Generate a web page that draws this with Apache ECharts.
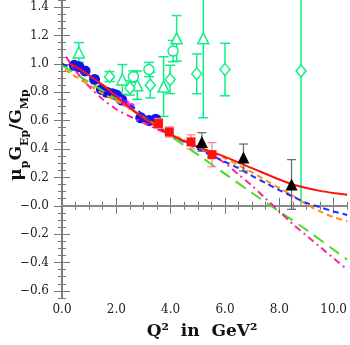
<!DOCTYPE html>
<html><head><meta charset="utf-8">
<script src="https://cdn.jsdelivr.net/npm/echarts@6/dist/echarts.min.js"></script>
<style>html,body{margin:0;padding:0;background:#fff}#c{width:350px;height:345px}</style>
</head><body><div id="c"></div>
<script>
// ---- axis ticks ----
const xTickValues = [0, 2, 4, 6, 8, 10];
const xTickLabels = ['0.0', '2.0', '4.0', '6.0', '8.0', '10.0'];
const yTickValues = [-0.6, -0.4, -0.2, 0, 0.2, 0.4, 0.6, 0.8, 1.0, 1.2, 1.4];
const yTickLabels = ['\u22120.6', '\u22120.4', '\u22120.2', '\u22120.0', '0.2', '0.4', '0.6', '0.8', '1.0', '1.2', '1.4'];

// ---- data points ----
const blueX = [0.45, 0.62, 0.85, 1.2, 1.45, 1.65, 1.85, 2.0, 2.2, 2.9, 3.2, 3.45];
const blueY = [0.99, 0.98, 0.95, 0.89, 0.82, 0.80, 0.79, 0.78, 0.745, 0.62, 0.60, 0.61];

const magX = [2.1, 2.35, 2.55];
const magY = [0.745, 0.72, 0.70];

const redX = [3.55, 3.95, 4.75, 5.52];
const redY = [0.58, 0.52, 0.45, 0.36];
const redErr = [0.035, 0.035, 0.05, 0.085];

const blkX = [5.15, 6.68, 8.45];
const blkY = [0.45, 0.34, 0.15];
const blkErr = [0.065, 0.095, 0.175];

const gTriX = [0.62, 2.22, 2.77, 3.74, 4.22, 5.2];
const gTriY = [1.08, 0.89, 0.85, 0.84, 1.18, 1.18];
const gTriErr = [0.07, 0.105, 0.10, 0.21, 0.16, 0.56];

const gCirX = [2.63, 3.2, 4.09];
const gCirY = [0.91, 0.96, 1.09];
const gCirErr = [0.04, 0.05, 0.075];

const gDiaX = [1.75, 2.5, 3.25, 3.98, 4.96, 6.0, 8.8];
const gDiaY = [0.91, 0.83, 0.85, 0.89, 0.93, 0.96, 0.95];
const gDiaErr = [0.035, 0.05, 0.09, 0.10, 0.14, 0.185, 0.95];

// ---- model curves ----
const redCurveX = [0.3, 0.5, 1, 1.5, 2, 2.5, 3, 3.5, 4, 4.5, 5, 5.5, 6, 7, 8, 8.5, 9, 9.5, 10, 10.5];
const redCurveY = [1.0, 0.98, 0.92, 0.85, 0.77, 0.69, 0.62, 0.555, 0.50, 0.455, 0.415, 0.38, 0.345, 0.265, 0.185, 0.15, 0.125, 0.105, 0.09, 0.077];

const blueCurveX = [0, 0.5, 1, 1.5, 2, 2.5, 3, 3.5, 4, 4.5, 5, 5.5, 6, 6.5, 7, 7.5, 8, 8.5, 9, 9.5, 10, 10.5];
const blueCurveY = [1.0, 0.96, 0.91, 0.85, 0.78, 0.71, 0.64, 0.56, 0.50, 0.45, 0.40, 0.355, 0.31, 0.265, 0.21, 0.16, 0.11, 0.065, 0.02, -0.01, -0.04, -0.065];

const orangeCurveX = [0.1, 0.5, 1, 1.5, 2, 2.5, 3, 3.5, 4, 4.5, 5, 5.5, 6, 6.5, 7, 7.5, 8, 8.5, 9, 9.5, 10, 10.5];
const orangeCurveY = [0.96, 0.91, 0.85, 0.79, 0.74, 0.685, 0.625, 0.565, 0.51, 0.46, 0.415, 0.375, 0.335, 0.285, 0.235, 0.18, 0.125, 0.07, 0.01, -0.04, -0.08, -0.11];

const greenCurveX = [0, 1, 2, 3, 4, 5, 6, 7, 8, 9, 10, 10.5];
const greenCurveY = [0.99, 0.87, 0.75, 0.62, 0.49, 0.36, 0.225, 0.09, -0.04, -0.17, -0.31, -0.38];

const magCurveX = [0.15, 0.5, 1, 1.5, 2, 2.5, 3, 3.5, 4, 4.5, 5, 5.5, 6, 6.5, 7, 7.5, 8, 8.5, 9, 9.5, 10, 10.5];
const magCurveY = [1.05, 0.95, 0.84, 0.75, 0.68, 0.63, 0.585, 0.54, 0.50, 0.46, 0.41, 0.36, 0.30, 0.22, 0.14, 0.05, -0.04, -0.13, -0.21, -0.29, -0.37, -0.45];

const zip = (xs, ys) => xs.map((x, i) => [x, ys[i]]);
const errData = (xs, ys, es) => xs.map((x, i) => [x, ys[i] - es[i], ys[i] + es[i]]);

function errRender(color, capW, lw) {
  return function (params, api) {
    const x = api.value(0), lo = api.value(1), hi = api.value(2);
    const a = api.coord([x, lo]), b = api.coord([x, hi]);
    const h = capW / 2;
    const st = { stroke: color, lineWidth: lw };
    return { type: 'group', children: [
      { type: 'line', shape: { x1: a[0], y1: a[1], x2: b[0], y2: b[1] }, style: st },
      { type: 'line', shape: { x1: a[0] - h, y1: a[1], x2: a[0] + h, y2: a[1] }, style: st },
      { type: 'line', shape: { x1: b[0] - h, y1: b[1], x2: b[0] + h, y2: b[1] }, style: st }
    ]};
  };
}

const GREEN = '#11ee88';
const FONT = 'DejaVu Serif';

const chart = echarts.init(document.getElementById('c'), null, { renderer: 'canvas' });

const axCommon = { min: 0, max: 10.5, type: 'value', splitLine: { show: false } };
const ayCommon = { min: -0.65, max: 1.45, type: 'value', splitLine: { show: false } };
const frame = { show: true, lineStyle: { color: '#777', width: 1.5 } };
const noLine = { show: false };

function lineSeries(xs, ys, color, type, z) {
  return { type: 'line', data: zip(xs, ys), showSymbol: false, smooth: 0.3, z: z || 5,
    lineStyle: { color: color, width: 2, type: type }, silent: true, animation: false };
}
function scatter(xs, ys, symbol, size, z, style) {
  return { type: 'scatter', data: zip(xs, ys), symbol: symbol, symbolSize: size, z: z,
    itemStyle: Object.assign({ opacity: 1 }, style), silent: true };
}

chart.setOption({
  animation: false,
  grid: { left: 62, right: 1, top: 0, bottom: 47 },
  xAxis: [
    Object.assign({}, axCommon, { position: 'bottom', axisLine: frame,
      axisTick: { show: true, inside: true, length: 8, customValues: xTickValues, lineStyle: { color: '#777' } },
      axisLabel: { show: true, customValues: xTickValues, formatter: v => xTickLabels[xTickValues.indexOf(Math.round(v))],
        fontFamily: FONT, fontSize: 12, color: '#222', margin: 6 } }),
    Object.assign({}, axCommon, { position: 'bottom', interval: 0.5, axisLine: noLine,
      axisTick: { show: true, inside: true, length: 4, lineStyle: { color: '#777' } }, axisLabel: { show: false } }),
    Object.assign({}, axCommon, { position: 'top', axisLine: frame,
      axisTick: { show: true, inside: true, length: 8, customValues: xTickValues, lineStyle: { color: '#777' } }, axisLabel: { show: false } }),
    Object.assign({}, axCommon, { position: 'top', interval: 0.5, axisLine: noLine,
      axisTick: { show: true, inside: true, length: 4, lineStyle: { color: '#777' } }, axisLabel: { show: false } })
  ],
  yAxis: [
    Object.assign({}, ayCommon, { position: 'left', axisLine: frame,
      axisTick: { show: true, inside: true, length: 8, customValues: yTickValues, lineStyle: { color: '#777' } },
      axisLabel: { show: true, customValues: yTickValues,
        formatter: v => { let i = yTickValues.findIndex(t => Math.abs(t - v) < 1e-6); return i < 0 ? '' : yTickLabels[i]; },
        fontFamily: FONT, fontSize: 12, color: '#222', margin: 13 } }),
    Object.assign({}, ayCommon, { position: 'left', interval: 0.05, axisLine: noLine,
      axisTick: { show: true, inside: true, length: 4, lineStyle: { color: '#777' } }, axisLabel: { show: false } }),
    Object.assign({}, ayCommon, { position: 'right', axisLine: frame,
      axisTick: { show: true, inside: true, length: 8, customValues: yTickValues, lineStyle: { color: '#777' } }, axisLabel: { show: false } }),
    Object.assign({}, ayCommon, { position: 'right', interval: 0.05, axisLine: noLine,
      axisTick: { show: true, inside: true, length: 4, lineStyle: { color: '#777' } }, axisLabel: { show: false } })
  ],
  graphic: [
    { type: 'text', x: 202, y: 332, style: { text: 'Q\u00b2  in  GeV\u00b2', font: 'bold 17px "DejaVu Serif"', fill: '#111', align: 'center', verticalAlign: 'middle' } },
    { type: 'text', x: 17, y: 135, rotation: Math.PI / 2,
      style: { text: '{m|\u03bc}{s|p}{m|G}{s|Ep}{m|/G}{s|Mp}', align: 'center', verticalAlign: 'middle', fill: '#111',
        rich: {
          m: { font: 'bold 17px "DejaVu Serif"', lineHeight: 28, fill: '#111' },
          s: { font: 'bold 11px "DejaVu Serif"', lineHeight: 12, verticalAlign: 'bottom', fill: '#111' }
        } } }
  ],
  series: [
    { type: 'line', data: [], markLine: { silent: true, symbol: 'none', label: { show: false },
        lineStyle: { color: '#888', width: 2, type: 'solid' }, data: [{ yAxis: 0 }] }, z: 1 },
    { type: 'custom', renderItem: errRender(GREEN, 10, 1.5), data: errData(gTriX, gTriY, gTriErr), clip: true, z: 2, encode: { x: 0, y: [1, 2] } },
    { type: 'custom', renderItem: errRender(GREEN, 10, 1.5), data: errData(gCirX, gCirY, gCirErr), clip: true, z: 2, encode: { x: 0, y: [1, 2] } },
    { type: 'custom', renderItem: errRender(GREEN, 10, 1.5), data: errData(gDiaX, gDiaY, gDiaErr), clip: true, z: 2, encode: { x: 0, y: [1, 2] } },
    scatter(gTriX, gTriY, 'triangle', 11, 3, { color: '#fff', borderColor: GREEN, borderWidth: 1.5 }),
    scatter(gCirX, gCirY, 'circle', 10, 3, { color: '#fff', borderColor: GREEN, borderWidth: 1.5 }),
    scatter(gDiaX, gDiaY, 'diamond', [10, 12], 3, { color: '#fff', borderColor: GREEN, borderWidth: 1.5 }),
    scatter(blueX, blueY, 'circle', 11, 4, { color: '#1111ee' }),
    scatter(magX, magY, 'circle', 7, 4, { color: '#ff22ff' }),
    lineSeries(greenCurveX, greenCurveY, '#44dd22', [12, 7], 5),
    lineSeries(magCurveX, magCurveY, '#ff2299', [7, 4, 2, 4], 5),
    lineSeries(orangeCurveX, orangeCurveY, '#ff8c1a', [6, 4], 5),
    lineSeries(blueCurveX, blueCurveY, '#1a2cff', [6, 4], 6),
    lineSeries(redCurveX, redCurveY, '#ff1111', 'solid', 6),
    { type: 'custom', renderItem: errRender('#ff8080', 9, 1.2), data: errData(redX, redY, redErr), clip: true, z: 7, encode: { x: 0, y: [1, 2] } },
    scatter(redX, redY, 'rect', 9, 8, { color: '#ff1111' }),
    { type: 'custom', renderItem: errRender('#666', 9, 1.2), data: errData(blkX, blkY, blkErr), clip: true, z: 7, encode: { x: 0, y: [1, 2] } },
    scatter(blkX, blkY, 'triangle', 12, 8, { color: '#000' })
  ]
});
</script>
</body></html>
